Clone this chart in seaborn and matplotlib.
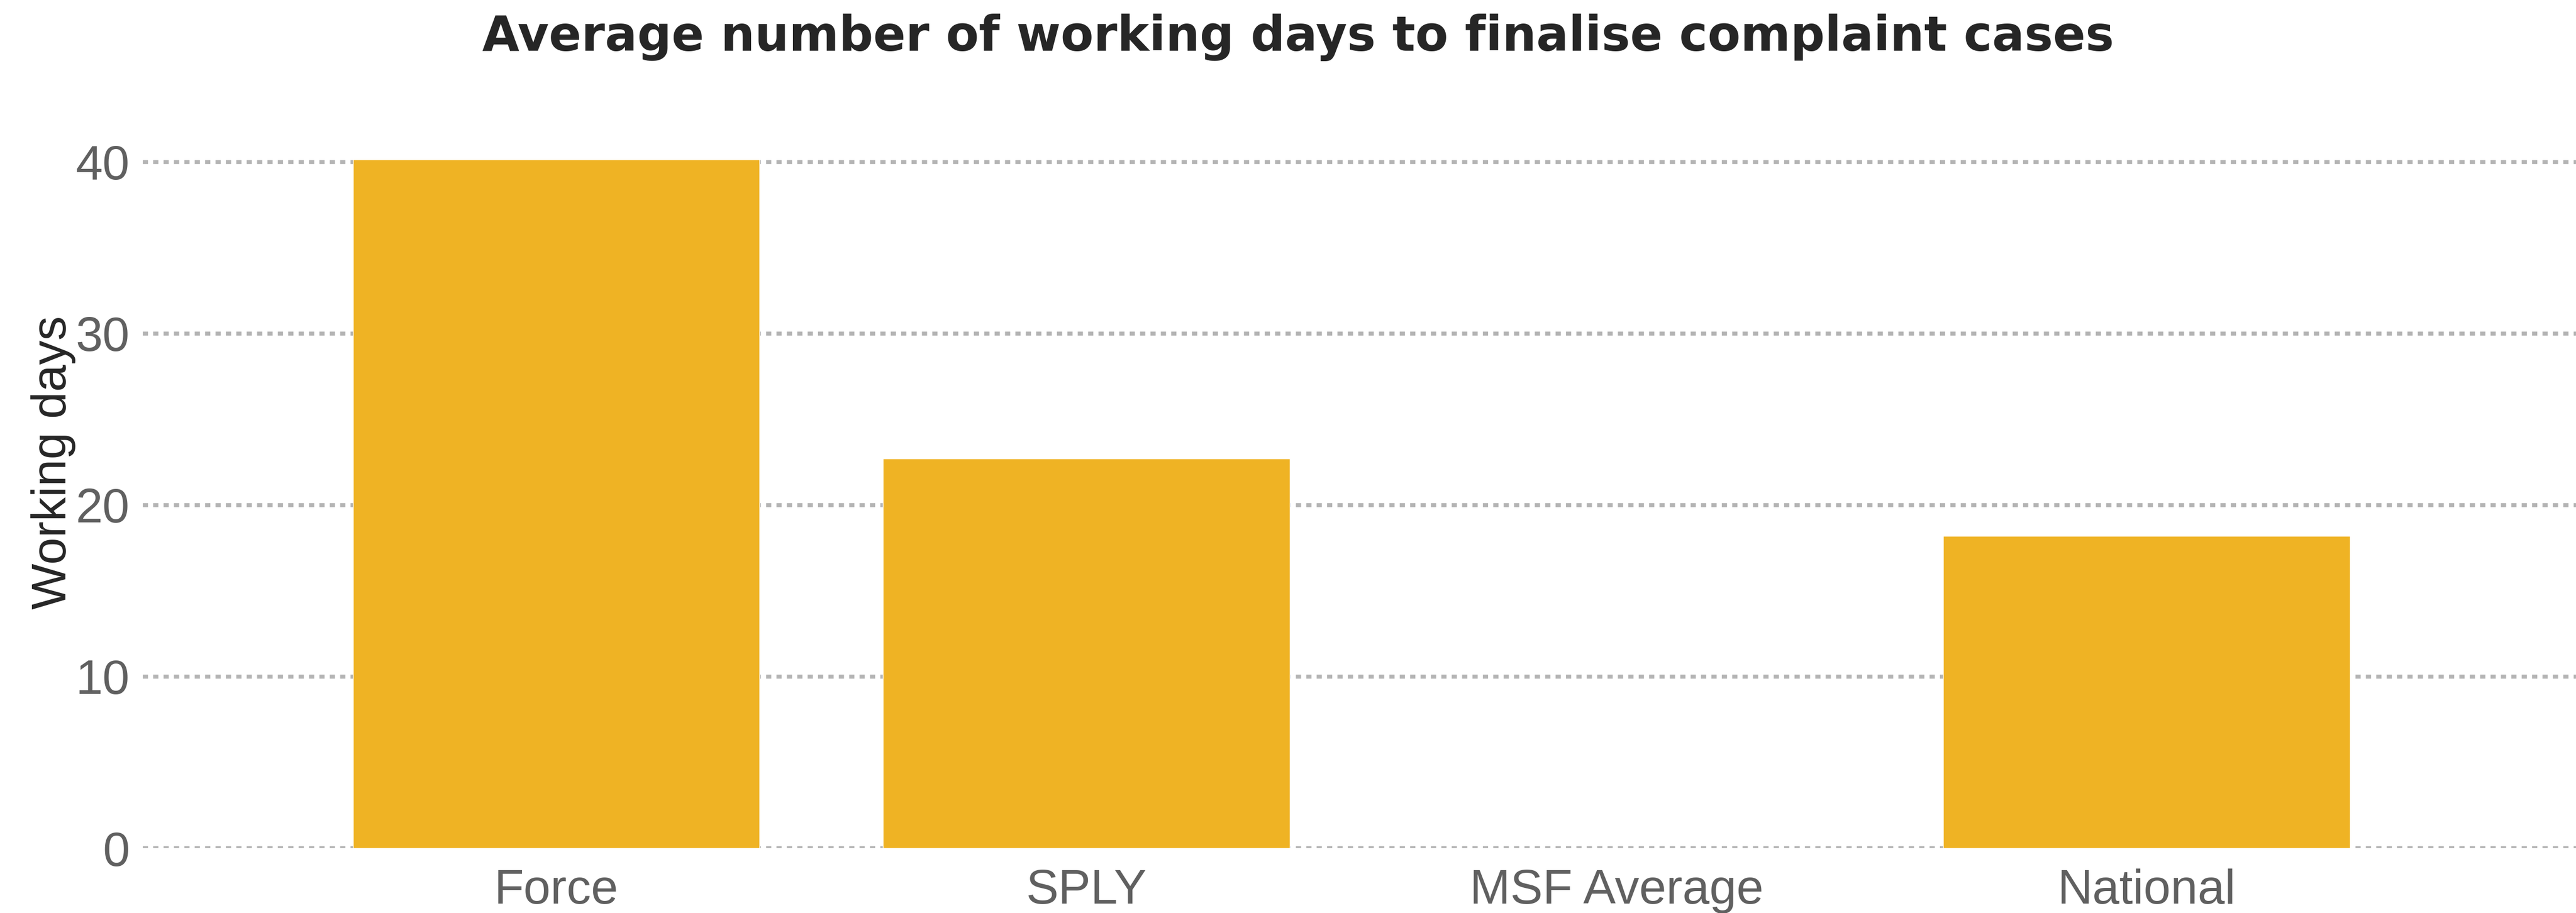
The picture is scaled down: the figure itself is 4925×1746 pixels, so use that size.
import matplotlib
matplotlib.use("Agg")
import matplotlib.pyplot as plt
import seaborn as sns
import numpy as np
import pandas as pd

categories = ["Force", "SPLY", "MSF Average", "National"]
values = [40.15, 22.7, np.nan, 18.2]
y_ticks = [0, 10, 20, 30, 40]

title = "Average number of working days to finalise complaint cases"
y_label = "Working days"

sns.set_theme(style="white")
plt.rcParams['font.family'] = ['Liberation Sans', 'DejaVu Sans']

df = pd.DataFrame({"category": categories, "value": values})

fig = plt.figure(figsize=(49.25, 17.46), dpi=100)
ax = fig.add_axes([0.0554, 0.071, 0.9446, 0.779])

sns.barplot(data=df, x="category", y="value", order=categories,
            color="#EFB324", saturation=1, width=0.767, ax=ax, zorder=2)

ax.set_xlim(-0.78, 3.81)
ax.set_ylim(0, 41.46)
ax.set_yticks(y_ticks)
ax.set_yticklabels([str(t) for t in y_ticks])
ax.set_axisbelow(True)
ax.yaxis.grid(True, color="#b4b4b4", linewidth=5.5, linestyle=(0, (1.3, 1.3)), zorder=0)
ax.xaxis.grid(False)
for s in ax.spines.values():
    s.set_visible(False)

ax.tick_params(axis="both", length=0, labelsize=67, labelcolor="#606060")
ax.tick_params(axis="y", pad=18)
ax.tick_params(axis="x", pad=28)
ax.set_xlabel("")
ax.set_ylabel(y_label, fontsize=67, color="#262626")
ax.yaxis.set_label_coords(-0.0275, 0.542)

fig.text(0.504, 0.985, title, ha="center", va="top", fontsize=66,
         fontweight="bold", color="#262626", family="DejaVu Sans")

fig.savefig("out.png", dpi=100, facecolor="white")
